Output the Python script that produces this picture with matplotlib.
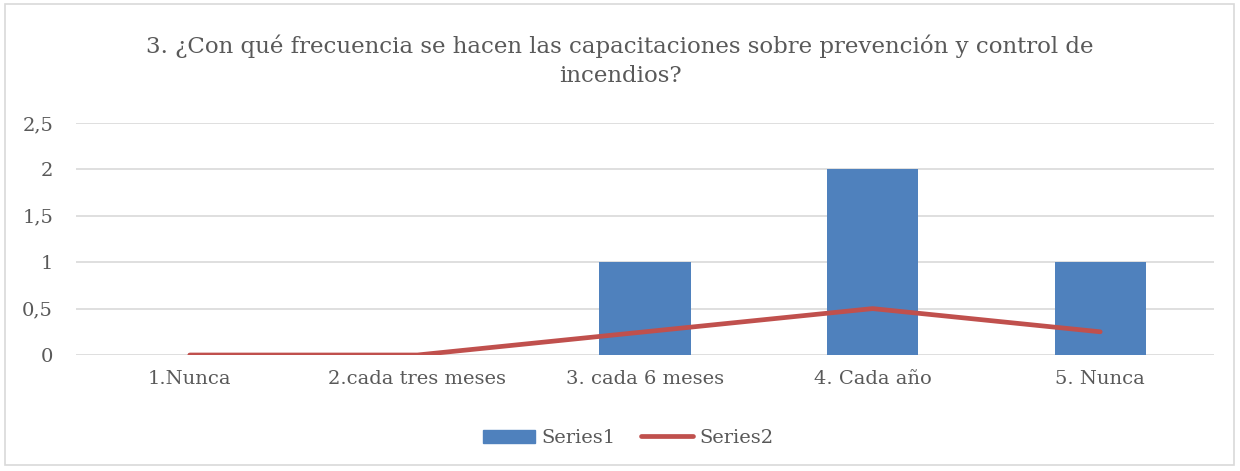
import matplotlib
matplotlib.use("Agg")
import matplotlib.pyplot as plt
from matplotlib.patches import Rectangle
from matplotlib.lines import Line2D

categories = ["1.Nunca", "2.cada tres meses", "3. cada 6 meses", "4. Cada año", "5. Nunca"]
series1 = [0, 0, 1, 2, 1]
series2 = [0, 0, 0.25, 0.5, 0.25]
yticks = [0, 0.5, 1, 1.5, 2, 2.5]
ytick_labels = ["0", "0,5", "1", "1,5", "2", "2,5"]
title = "3. ¿Con qué frecuencia se hacen las capacitaciones sobre prevención y control de\nincendios?"

TEXT = "#595959"
GRID = "#D9D9D9"
BLUE = "#4F81BD"
RED = "#C0504D"
FONT = "DejaVu Serif"

plt.rcParams["font.family"] = FONT

fig = plt.figure(figsize=(12.4, 4.71), dpi=100)
fig.patches.append(Rectangle((5/1240, 6/471), 1229/1240, 461/471, transform=fig.transFigure,
                             fill=False, edgecolor=GRID, linewidth=1.2))

ax = fig.add_axes([76/1240, 1 - 355/471, (1214 - 76)/1240, (355 - 123)/471])
x = list(range(len(categories)))
ax.bar(x, series1, width=0.4, color=BLUE, zorder=2, label="Series1")
ax.plot(x, series2, color=RED, linewidth=3.4, solid_capstyle="round", zorder=3, label="Series2")

ax.set_xlim(-0.5, len(categories) - 0.5)
ax.set_ylim(0, 2.5)
ax.set_yticks(yticks)
ax.set_yticklabels(ytick_labels)
ax.set_xticks(x)
ax.set_xticklabels(categories)
ax.yaxis.grid(True, color=GRID, linewidth=1.2, zorder=0)
ax.set_axisbelow(True)
for s in ax.spines.values():
    s.set_visible(False)
ax.tick_params(axis="both", length=0, colors=TEXT, labelsize=14)
ax.tick_params(axis="y", pad=16.5)
ax.tick_params(axis="x", pad=11)

fig.text(0.5, 1 - 61/471, title, ha="center", va="center", fontsize=16.5, color=TEXT,
         linespacing=1.42)

handles = [Rectangle((0, 0), 1, 1, color=BLUE), Line2D([0], [0], color=RED, linewidth=3.4, solid_capstyle="round")]
fig.legend(handles, ["Series1", "Series2"], loc="center", bbox_to_anchor=(628/1240, 1 - 438/471),
           ncol=2, frameon=False, fontsize=14, labelcolor=TEXT, handlelength=2.7,
           handleheight=0.65, handletextpad=0.3, columnspacing=1.3)

fig.savefig("out.png", dpi=100)
